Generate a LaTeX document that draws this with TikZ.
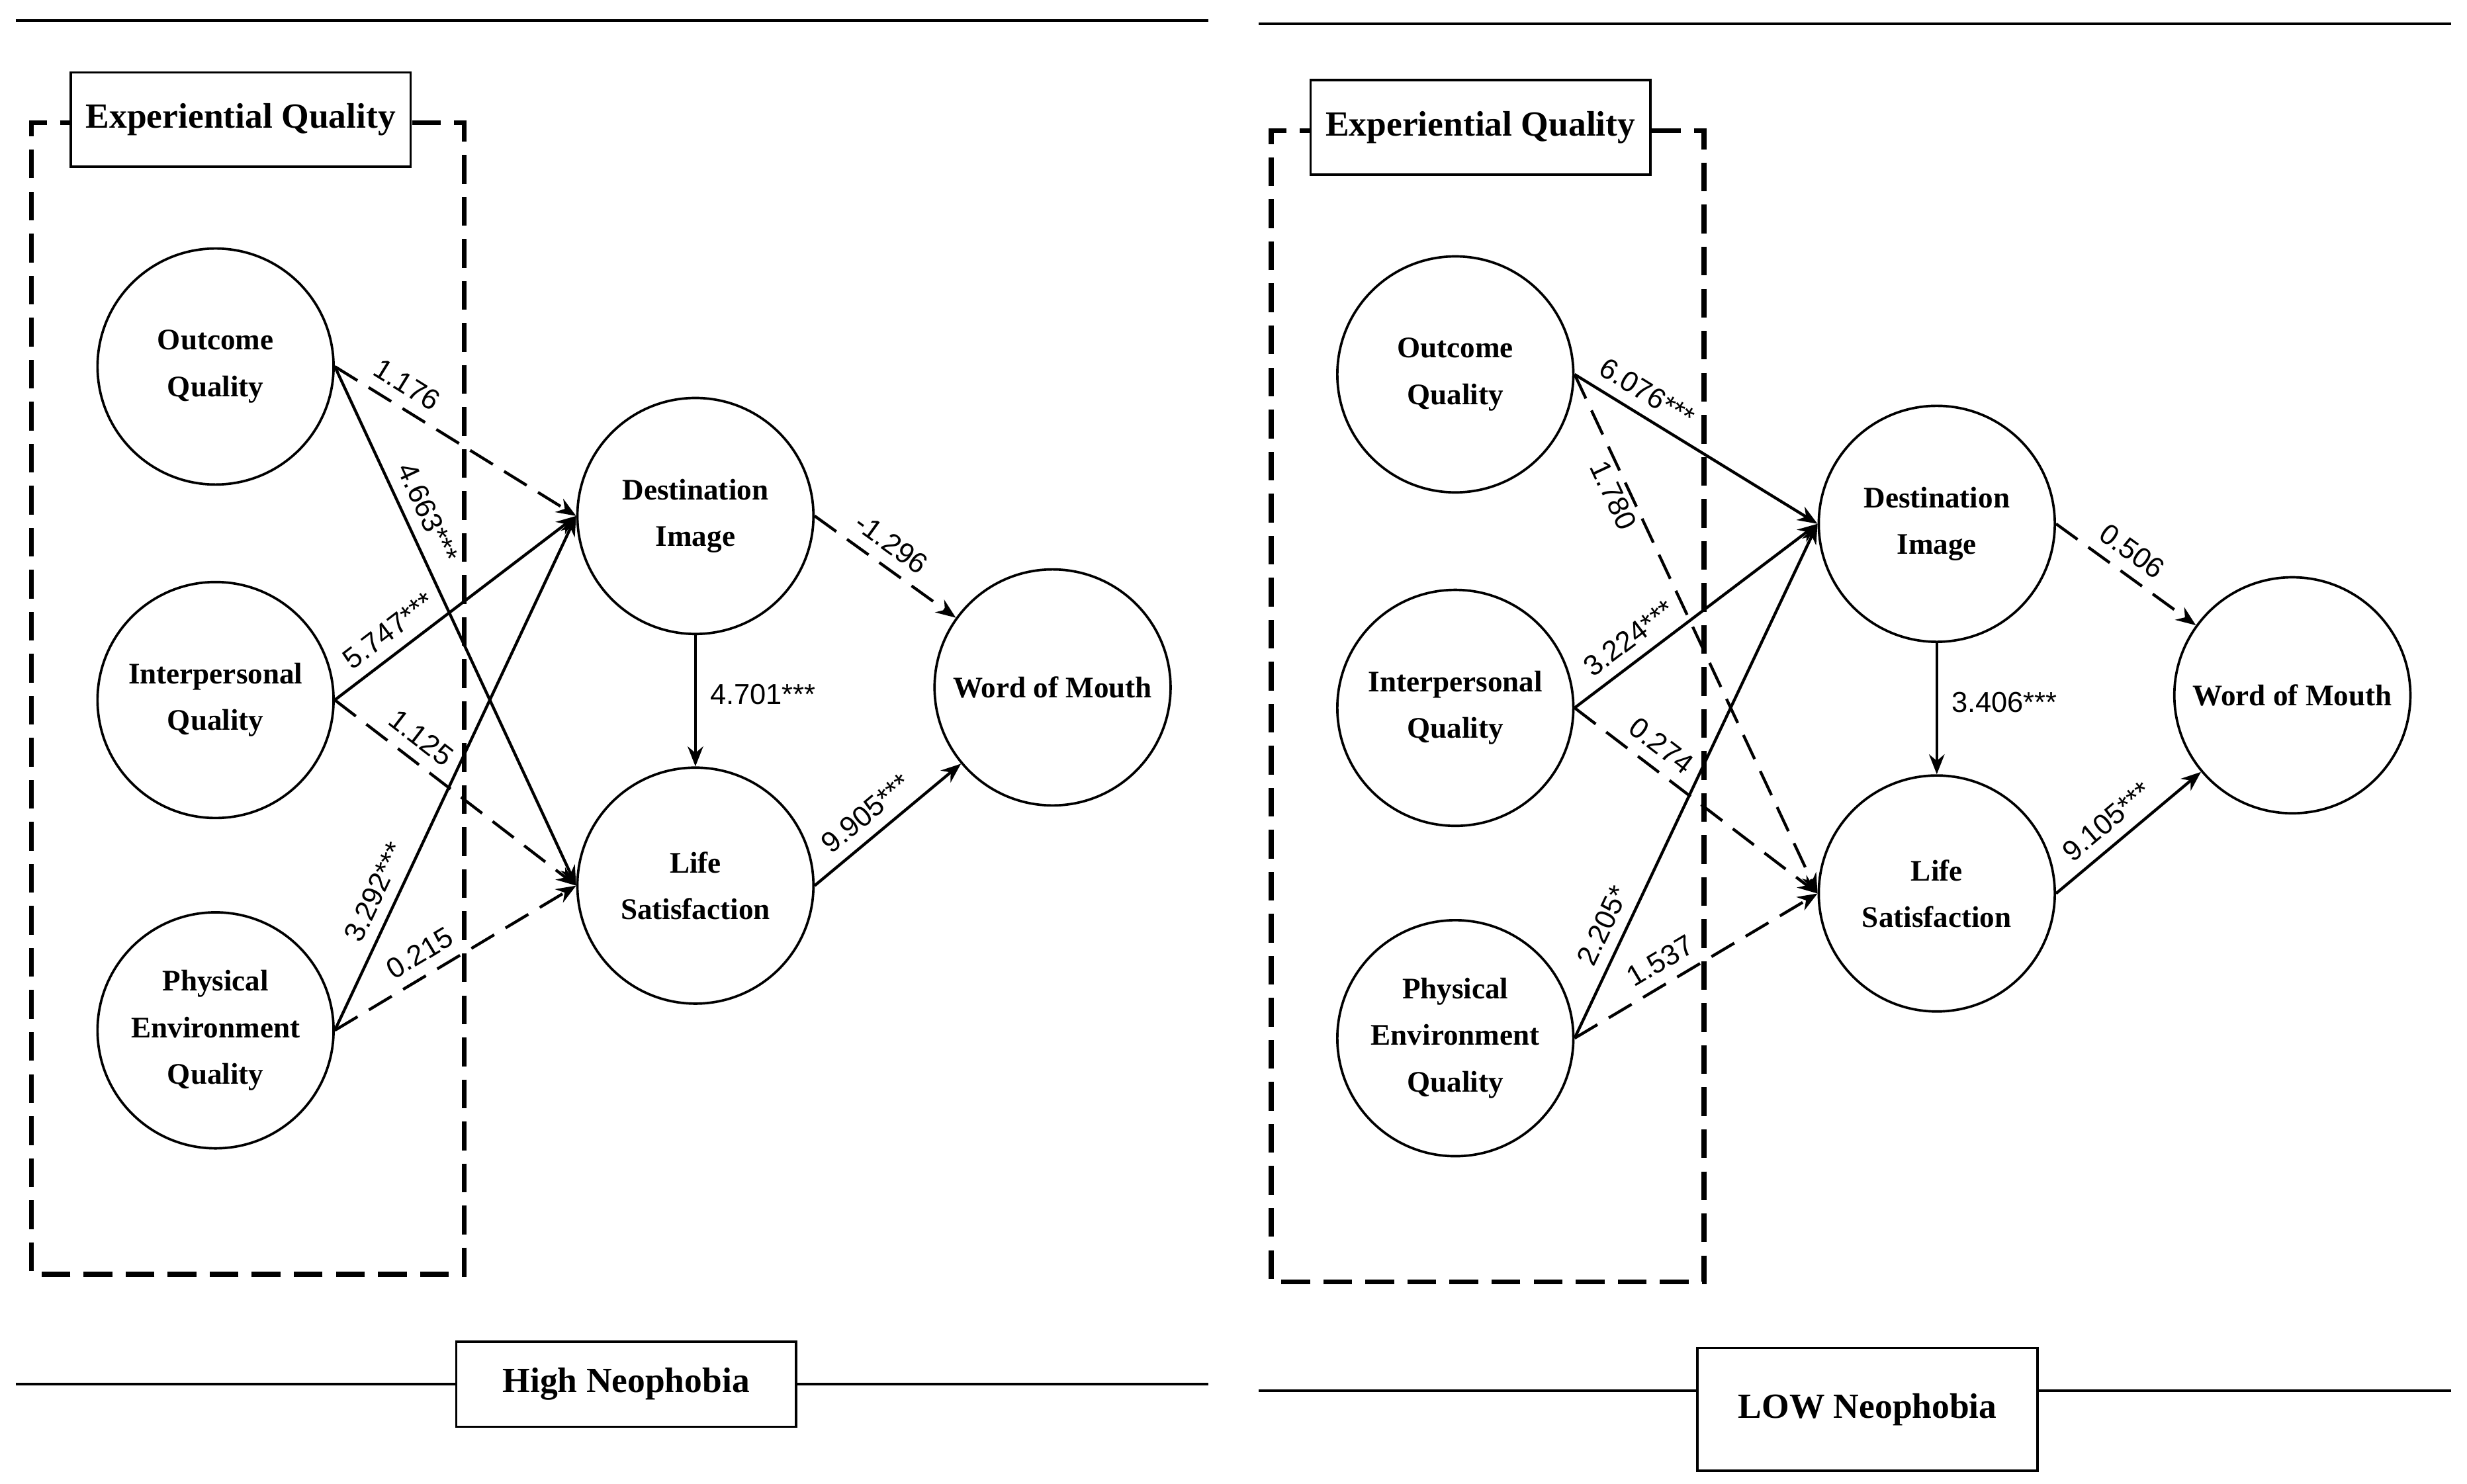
\documentclass[tikz,border=0pt]{standalone}
\usepackage{fontspec}
\setmainfont{Liberation Serif}
\newfontfamily\lblfont{Liberation Sans}
\usetikzlibrary{arrows.meta}
\tikzset{
  construct/.style={draw, circle, minimum size=3.75cm, line width=1.1pt, align=center,
    font=\fontsize{13.5}{21}\selectfont\bfseries},
  title box/.style={draw, line width=1.1pt, minimum width=5.4cm, minimum height=1.5cm,
    font=\fontsize{16}{20}\selectfont\bfseries, fill=white},
  path/.style={line width=1.3pt, -{Stealth[length=9pt,width=7pt]}},
  ns/.style={path, dash pattern=on 12pt off 6pt},
  coef/.style={font=\lblfont\fontsize{13}{15}\selectfont, sloped, above=3pt, inner sep=2pt},
  frame/.style={line width=2.2pt, dash pattern=on 13pt off 6pt}
}
\begin{document}
\begin{tikzpicture}[x=0.025cm, y=-0.025cm]
\useasboundingbox (0,0) rectangle (1568,943);
% left panel
\draw[line width=1.1pt] (10,13) -- (768,13);
\draw[line width=1.1pt] (10,880) -- (768,880);
\draw[frame] (262,78) -- (295,78) -- (295,810) -- (20,810) -- (20,78) -- (45,78);
\node[title box] (lEQ) at (153,76) {Experiential Quality};
\node[title box, minimum height=1.35cm] (lHN) at (398,880) {High Neophobia};
\node[construct] (lOQ) at (137,233) {Outcome\\Quality};
\node[construct] (lIQ) at (137,445) {Interpersonal\\Quality};
\node[construct] (lPQ) at (137,655) {Physical\\Environment\\Quality};
\node[construct] (lDI) at (442,328) {Destination\\Image};
\node[construct] (lLS) at (442,563) {Life\\Satisfaction};
\node[construct] (lWM) at (669,437) {Word of Mouth};
\draw[ns] (lOQ.east) -- node[coef, pos=0.25] {1.176} (lDI.west);
\draw[path] (lOQ.east) -- node[coef, pos=0.3] {4.663***} (lLS.west);
\draw[path] (lIQ.east) -- node[coef, pos=0.28] {5.747***} (lDI.west);
\draw[ns] (lIQ.east) -- node[coef, pos=0.3] {1.125} (lLS.west);
\draw[path] (lPQ.east) -- node[coef, pos=0.25] {3.292***} (lDI.west);
\draw[ns] (lPQ.east) -- node[coef, pos=0.4] {0.215} (lLS.west);
\draw[ns] (lDI.east) -- node[coef, pos=0.45] {-1.296} (lWM);
\draw[path] (lDI) -- node[coef, sloped=false, right=4pt] {4.701***} (lLS);
\draw[path] (lLS.east) -- node[coef, pos=0.45] {9.905***} (lWM);
% right panel
\draw[line width=1.1pt] (800,15) -- (1558,15);
\draw[line width=1.1pt] (800,884) -- (1558,884);
\draw[frame] (1050,83) -- (1083,83) -- (1083,815) -- (808,815) -- (808,83) -- (833,83);
\node[title box] (rEQ) at (941,81) {Experiential Quality};
\node[title box, minimum height=1.95cm] (rLN) at (1187,896) {LOW Neophobia};
\node[construct] (rOQ) at (925,238) {Outcome\\Quality};
\node[construct] (rIQ) at (925,450) {Interpersonal\\Quality};
\node[construct] (rPQ) at (925,660) {Physical\\Environment\\Quality};
\node[construct] (rDI) at (1231,333) {Destination\\Image};
\node[construct] (rLS) at (1231,568) {Life\\Satisfaction};
\node[construct] (rWM) at (1457,442) {Word of Mouth};
\draw[path] (rOQ.east) -- node[coef, pos=0.25] {6.076***} (rDI.west);
\draw[ns] (rOQ.east) -- node[coef, pos=0.22, below=3pt] {1.780} (rLS.west);
\draw[path] (rIQ.east) -- node[coef, pos=0.28] {3.224***} (rDI.west);
\draw[ns] (rIQ.east) -- node[coef, pos=0.3] {0.274} (rLS.west);
\draw[path] (rPQ.east) -- node[coef, pos=0.2] {2.205*} (rDI.west);
\draw[ns] (rPQ.east) -- node[coef, pos=0.4] {1.537} (rLS.west);
\draw[ns] (rDI.east) -- node[coef, pos=0.45] {0.506} (rWM);
\draw[path] (rDI) -- node[coef, sloped=false, right=4pt] {3.406***} (rLS);
\draw[path] (rLS.east) -- node[coef, pos=0.45] {9.105***} (rWM);
\end{tikzpicture}
\end{document}
